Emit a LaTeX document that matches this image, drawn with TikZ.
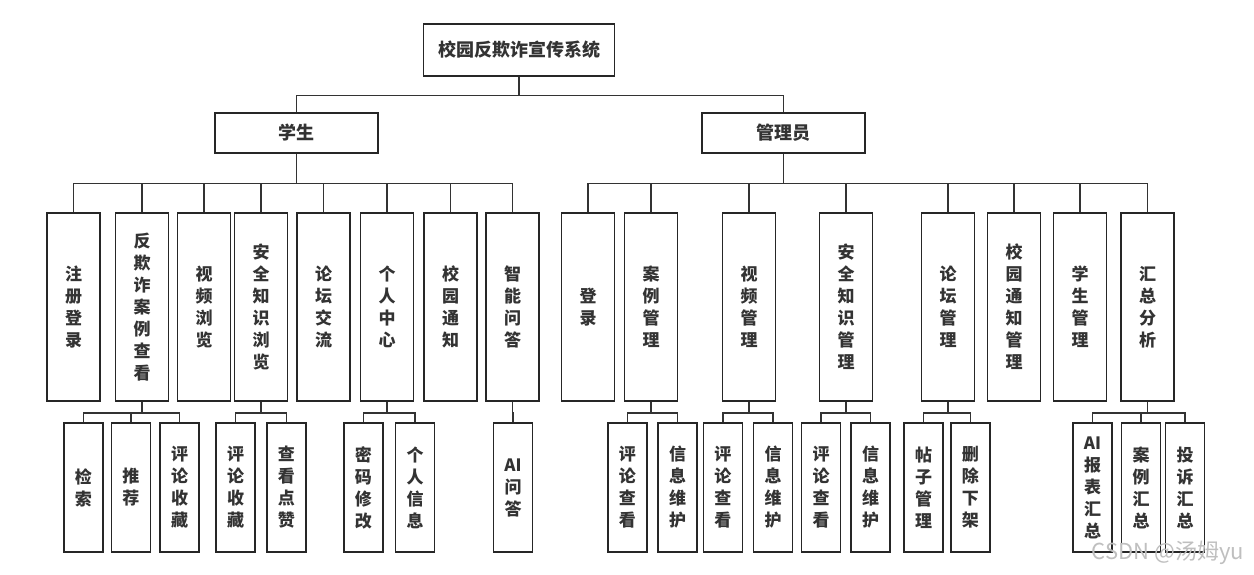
\documentclass[tikz,border=0pt]{standalone}
\usepackage{fontspec}
\newfontfamily\cjk{Noto Sans CJK SC}
\tikzset{
  box/.style={draw=black!85, line width=1.6pt, fill=white, inner sep=0pt, text=black!80,
    align=center, font=\cjk\bfseries\fontsize{17}{22}\selectfont},
  topbox/.style={box, minimum width=191pt, minimum height=52pt, font=\cjk\bfseries\fontsize{18}{22}\selectfont},
  rolebox/.style={box, minimum width=163pt, minimum height=40pt, font=\cjk\bfseries\fontsize{18}{22}\selectfont},
  modbox/.style={box, minimum width=53pt, minimum height=188pt},
  leafbox/.style={box, minimum width=39pt, minimum height=129pt},
  link/.style={draw=black!80, line width=1.4pt}
}
\begin{document}
\begin{tikzpicture}[x=1pt,y=-1pt]
\useasboundingbox (0,0) rectangle (1254,575);
\node [topbox] (sys) at (519,50) {校园反欺诈宣传系统};
\node [rolebox] (student) at (296.5,133) {学生};
\node [rolebox] (admin) at (783.5,133) {管理员};
% student modules
\node [modbox] (s1) at (73.5,307) {注\\册\\登\\录};
\node [modbox] (s2) at (142,307) {反\\欺\\诈\\案\\例\\查\\看};
\node [modbox] (s3) at (204,307) {视\\频\\浏\\览};
\node [modbox] (s4) at (261,307) {安\\全\\知\\识\\浏\\览};
\node [modbox] (s5) at (323.5,307) {论\\坛\\交\\流};
\node [modbox] (s6) at (387,307) {个\\人\\中\\心};
\node [modbox] (s7) at (450.6,307) {校\\园\\通\\知};
\node [modbox] (s8) at (512.6,307) {智\\能\\问\\答};
% admin modules
\node [modbox] (a1) at (588,307) {登\\录};
\node [modbox] (a2) at (651,307) {案\\例\\管\\理};
\node [modbox] (a3) at (749,307) {视\\频\\管\\理};
\node [modbox] (a4) at (846,307) {安\\全\\知\\识\\管\\理};
\node [modbox] (a5) at (948,307) {论\\坛\\管\\理};
\node [modbox] (a6) at (1014,307) {校\\园\\通\\知\\管\\理};
\node [modbox] (a7) at (1080,307) {学\\生\\管\\理};
\node [modbox] (a8) at (1147.5,307) {汇\\总\\分\\析};
% leaves
\node [leafbox] (s2a) at (83.4,487.5) {检\\索};
\node [leafbox] (s2b) at (130.8,487.5) {推\\荐};
\node [leafbox] (s2c) at (179.6,487.5) {评\\论\\收\\藏};
\node [leafbox] (s4a) at (235.6,487.5) {评\\论\\收\\藏};
\node [leafbox] (s4b) at (286.3,487.5) {查\\看\\点\\赞};
\node [leafbox] (s6a) at (363.4,487.5) {密\\码\\修\\改};
\node [leafbox] (s6b) at (415,487.5) {个\\人\\信\\息};
\node [leafbox] (s8a) at (513,487.5) {AI\\问\\答};
\node [leafbox] (a2a) at (627.4,487.5) {评\\论\\查\\看};
\node [leafbox] (a2b) at (677.6,487.5) {信\\息\\维\\护};
\node [leafbox] (a3a) at (722.9,487.5) {评\\论\\查\\看};
\node [leafbox] (a3b) at (773,487.5) {信\\息\\维\\护};
\node [leafbox] (a4a) at (821,487.5) {评\\论\\查\\看};
\node [leafbox] (a4b) at (870.5,487.5) {信\\息\\维\\护};
\node [leafbox] (a5a) at (923.7,487.5) {帖\\子\\管\\理};
\node [leafbox] (a5b) at (970.4,487.5) {删\\除\\下\\架};
\node [leafbox] (a8a) at (1092.5,487.5) {AI\\报\\表\\汇\\总};
\node [leafbox] (a8b) at (1141,487.5) {案\\例\\汇\\总};
\node [leafbox] (a8c) at (1185,487.5) {投\\诉\\汇\\总};
% connectors
\foreach \c in {student,admin}
  \draw [link] (sys.south) -- ++(0,19) -| (\c.north);
\foreach \c in {s1,s2,s3,s4,s5,s6,s7,s8}
  \draw [link] (student.south) -- ++(0,30) -| (\c.north);
\foreach \c in {a1,a2,a3,a4,a5,a6,a7,a8}
  \draw [link] (admin.south) -- ++(0,30) -| (\c.north);
\foreach \p/\c in {s2/s2a,s2/s2b,s2/s2c,s4/s4a,s4/s4b,s6/s6a,s6/s6b,s8/s8a,
    a2/a2a,a2/a2b,a3/a3a,a3/a3b,a4/a4a,a4/a4b,a5/a5a,a5/a5b,a8/a8a,a8/a8b,a8/a8c}
  \draw [link] (\p.south) -- ++(0,11) -| (\c.north);
\node [text=black!25, font=\cjk\fontsize{22}{24}\selectfont] (mark) at (1168,553) {CSDN @汤姆yu};
\end{tikzpicture}
\end{document}
